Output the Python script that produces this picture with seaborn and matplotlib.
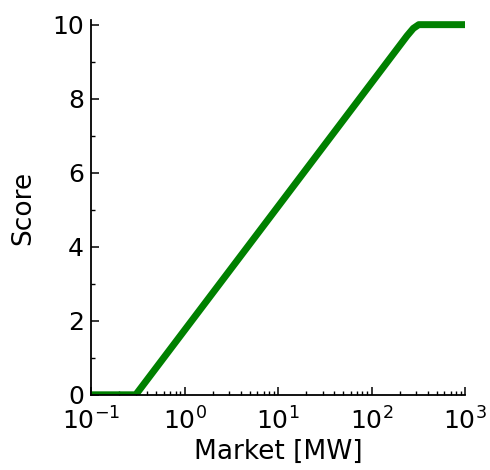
import numpy as np
import pandas as pd
import matplotlib
matplotlib.use("Agg")
import matplotlib.pyplot as plt
import seaborn as sns
from matplotlib.ticker import LogLocator, MultipleLocator

# values
market_mw = [0.1, 0.3, 240, 280, 320, 1000]
score = [0.0, 0.0, 9.7, 9.9, 10.0, 10.0]

df = pd.DataFrame({"Market [MW]": market_mw, "Score": score})

sns.set_style("ticks")
plt.rcParams["font.family"] = ["DejaVu Sans"]
plt.rcParams["axes.unicode_minus"] = False
plt.rcParams["text.color"] = "black"
plt.rcParams["axes.labelcolor"] = "black"
plt.rcParams["xtick.color"] = "black"
plt.rcParams["ytick.color"] = "black"

fig = plt.figure(figsize=(4.9, 4.7), dpi=100)
ax = fig.add_axes([0.186, 0.16, 0.763, 0.797])

sns.lineplot(data=df, x="Market [MW]", y="Score", ax=ax, color="#008000",
             linewidth=5, solid_joinstyle="round", solid_capstyle="butt")

ax.set_xscale("log")
ax.set_xlim(0.1, 1000)
ax.set_ylim(0, 10.12)
ax.yaxis.set_major_locator(MultipleLocator(2))
ax.yaxis.set_minor_locator(MultipleLocator(1))
ax.xaxis.set_major_locator(LogLocator(base=10, numticks=10))
ax.xaxis.set_minor_locator(LogLocator(base=10, subs=np.arange(2, 10), numticks=20))

sns.despine(ax=ax)
for s in ["left", "bottom"]:
    ax.spines[s].set_linewidth(1.3)
    ax.spines[s].set_color("black")

ax.tick_params(which="major", direction="in", length=6, width=1.1, labelsize=18, pad=5)
ax.tick_params(axis="x", which="major", pad=9)
ax.tick_params(which="minor", direction="in", length=3, width=1.0)
ax.set_xlabel("Market [MW]", fontsize=19, labelpad=3)
ax.set_ylabel("Score", fontsize=19, labelpad=12)

fig.savefig("out.png", dpi=100)
